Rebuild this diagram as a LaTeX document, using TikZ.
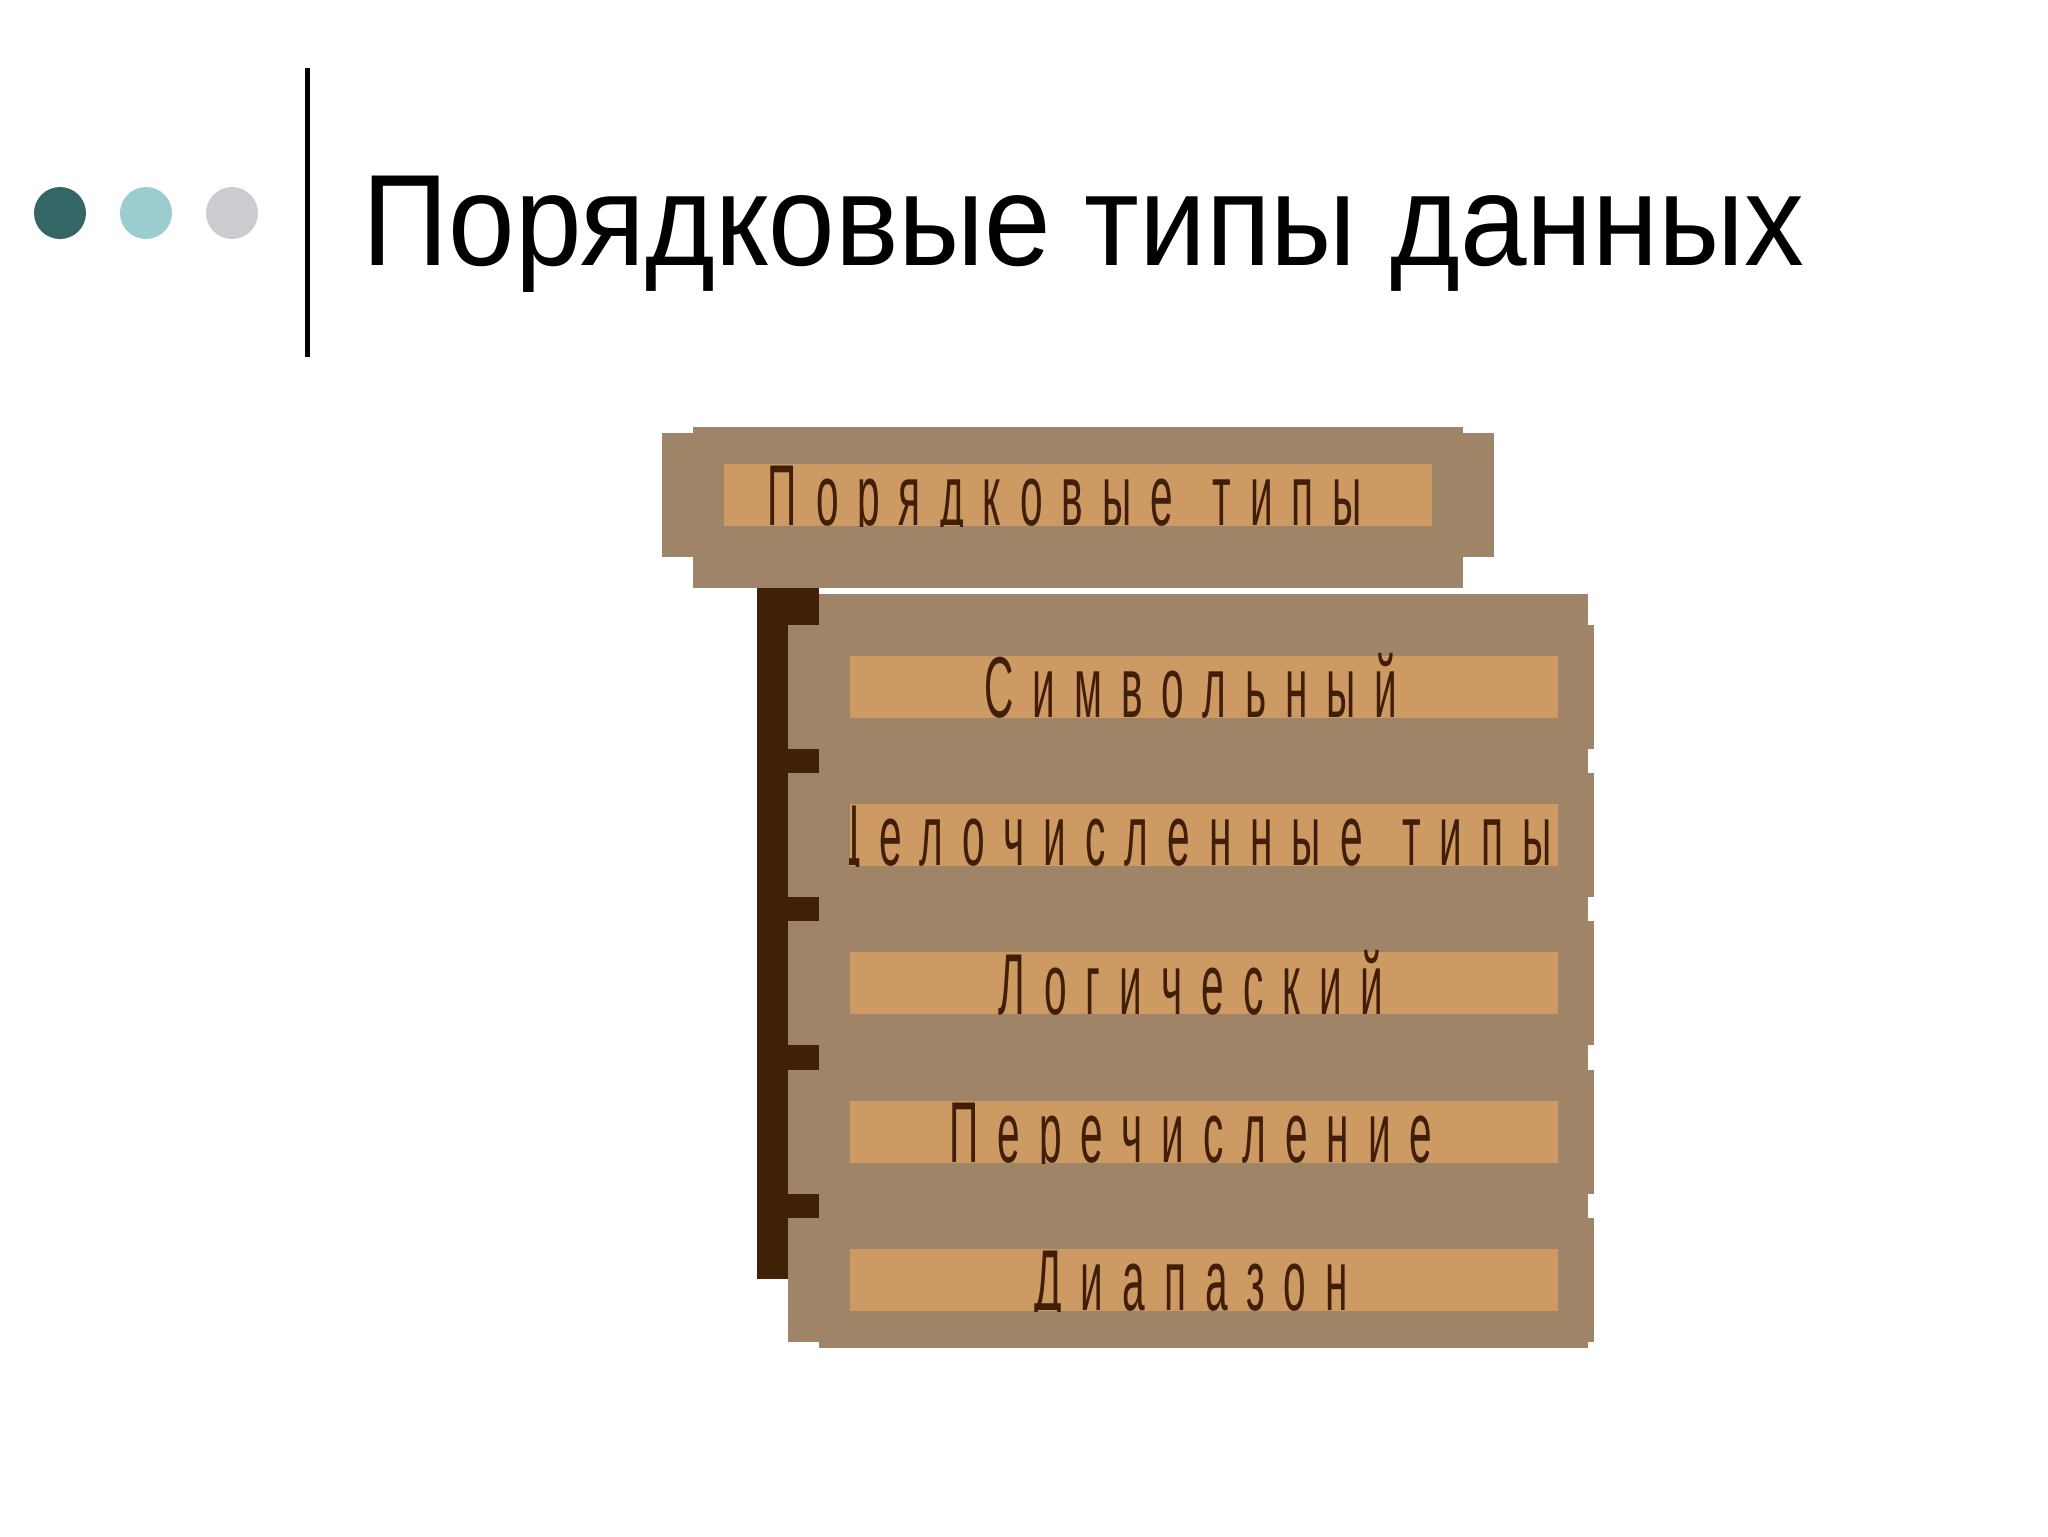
\documentclass[tikz,border=0pt]{standalone}
\usepackage{fontspec}
\setmainfont{Liberation Sans}
\newfontfamily\titlefont[FakeStretch=0.92]{Liberation Sans}
\newfontfamily\narrowfont[FakeStretch=0.47,LetterSpace=22,WordSpace=1.3]{Liberation Sans}
\usepackage{xcolor}
\usepackage{tikz}
\usetikzlibrary{positioning}
\definecolor{tanouter}{HTML}{A08468}
\definecolor{taninner}{HTML}{CE9A64}
\definecolor{brownink}{HTML}{401E08}
\definecolor{stemcolor}{HTML}{3E2106}
\definecolor{dotdark}{HTML}{346666}
\definecolor{dotlight}{HTML}{9BCDD0}
\definecolor{dotgrey}{HTML}{CCCCD0}

\begin{document}
\begin{tikzpicture}[
    x=0.1mm, y=-0.1mm,
    dot/.style={circle, minimum size=5.2mm, inner sep=0pt},
    tallbox/.style={rectangle, fill=tanouter, minimum width=76.9mm, minimum height=16.1mm, inner sep=0pt},
    widebox/.style={rectangle, fill=tanouter, minimum width=80.6mm, minimum height=12.4mm, inner sep=0pt},
    textbox/.style={rectangle, fill=taninner, minimum width=70.8mm, minimum height=6.2mm, inner sep=0pt},
    itemtext/.style={font=\narrowfont\fontsize{24.6}{26}\selectfont, text=brownink, inner sep=0pt, anchor=base},
    stem/.style={rectangle, fill=stemcolor, minimum width=6.2mm, minimum height=69.1mm, inner sep=0pt}
]
    \useasboundingbox (0,0) rectangle (2048,1536);

    % Title
    \node[dot, fill=dotdark] (dot1) at (60,213) {};
    \node[dot, fill=dotlight] (dot2) at (146,213) {};
    \node[dot, fill=dotgrey] (dot3) at (232,213) {};
    \draw[line width=0.5mm] (307,68) -- (307,357);
    \node[font=\titlefont\fontsize{37}{44}\selectfont, anchor=base west, inner sep=0pt] (title) at (362,265) {Порядковые типы данных};

    % Root box
    \node[tallbox, minimum width=77mm] (roottall) at (1078,507) {};
    \node[widebox, minimum width=83.2mm] (rootwide) at (1078,495) {};
    \node[textbox] (rootbox) at (1078,494.5) {};
    \begin{scope}
        \clip (rootbox.south west) rectangle ([yshift=2mm]rootbox.north east);
        \node[itemtext] (roottext) at ([xshift=-1.3mm, yshift=0.1mm]rootbox.south) {Порядковые типы};
    \end{scope}

    % Stem behind the items
    \node[stem] (stem) at (788,933.5) {};

    % Items
    \foreach \txt [count=\i from 0] in {Символьный, Целочисленные типы, Логический, Перечисление, Диапазон} {
        \pgfmathsetmacro\yc{687+148.2*\i}
        \node[tallbox] (tall\i) at (1203.5,\yc-12.5) {};
        \node[widebox] (wide\i) at (1191,\yc) {};
        \node[textbox] (box\i) at (1204,\yc) {};
        \begin{scope}
            \clip (box\i.south west) rectangle ([yshift=2mm]box\i.north east);
            \node[itemtext] (text\i) at ([xshift=-1.3mm, yshift=0.1mm]box\i.south) {\txt};
        \end{scope}
    }
\end{tikzpicture}
\end{document}
